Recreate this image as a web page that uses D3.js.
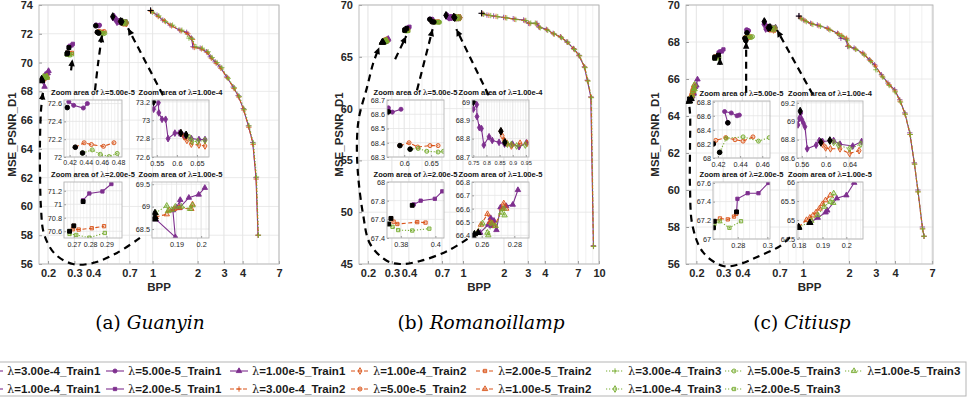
<!DOCTYPE html>
<html>
<head>
<meta charset="utf-8">
<script src="https://cdn.jsdelivr.net/npm/d3@7"></script>
<style>
  body { margin: 0; background: #fff; }
  svg { display: block; font-family: Arial, "Liberation Sans", Helvetica, sans-serif; }
</style>
</head>
<body>
<svg id="chart" width="967" height="400"></svg>
<script>
// ---- series labels
const lambdas = ["3.00e-4", "1.00e-4", "5.00e-5", "2.00e-5", "1.00e-5"];
const trains = ["Train1", "Train2", "Train3"];

// ---- (a) Guanyin : [bpp, psnr]
const gyR3e4T1 = [[0.97,73.62],[1.07,73.3],[1.17,72.95],[1.31,72.6],[1.52,72.25],[1.69,72.1],[1.82,71.7],[1.86,71.1],[2.08,71.0],[2.29,70.75],[2.43,70.4],[2.62,70.05],[2.82,69.7],[3.13,69.0],[3.46,68.3],[3.73,67.7],[4.04,66.8],[4.37,65.6],[4.67,64.45],[4.91,62.0],[5.07,58.0]];
const gyR3e4T2 = [[0.98,73.55],[1.09,73.2],[1.2,72.9],[1.34,72.55],[1.55,72.2],[1.72,72.0],[1.85,71.6],[1.9,71.05],[2.12,70.95],[2.32,70.7],[2.47,70.3],[2.66,69.95],[2.86,69.6],[3.16,68.95],[3.5,68.2],[3.77,67.6],[4.07,66.7],[4.4,65.5],[4.7,64.3],[4.93,61.9],[5.08,58.0]];
const gyR3e4T3 = [[1.0,73.5],[1.1,73.25],[1.22,72.85],[1.36,72.6],[1.57,72.25],[1.75,71.7],[1.84,71.65],[1.95,71.1],[2.15,71.0],[2.35,70.75],[2.5,70.35],[2.7,70.0],[2.9,69.65],[3.2,68.9],[3.52,68.25],[3.8,67.65],[4.1,66.75],[4.42,65.6],[4.72,64.4],[4.95,62.05],[5.1,58.0]];
const gyR1e4T1 = [[0.542,73.12],[0.554,73.19],[0.555,73.08],[0.563,73.01],[0.572,73.01],[0.578,72.8],[0.595,72.86],[0.606,72.86],[0.618,72.83],[0.636,72.8],[0.655,72.79],[0.67,72.79]];
const gyR1e4T2 = [[0.61,72.86],[0.618,72.82],[0.625,72.78],[0.636,72.74],[0.655,72.73],[0.67,72.72]];
const gyR1e4T3 = [[0.623,72.84],[0.632,72.81],[0.638,72.77],[0.652,72.77],[0.67,72.78]];
const gyR5e5T1 = [[0.419,72.62],[0.425,72.58],[0.437,72.55],[0.442,72.6]];
const gyR5e5T2 = [[0.427,72.11],[0.438,72.16],[0.447,72.14],[0.462,72.12],[0.475,72.16]];
const gyR5e5T3 = [[0.436,72.045],[0.448,72.08],[0.458,72.03],[0.469,72.005],[0.479,72.04]];
const gyR2e5T1 = [[0.2757,71.06],[0.2795,71.16],[0.2875,71.19],[0.293,71.3]];
const gyR2e5T2 = [[0.27,70.68],[0.2695,70.63],[0.273,70.625],[0.281,70.645],[0.2885,70.675]];
const gyR2e5T3 = [[0.2674,70.6],[0.2674,70.56],[0.2715,70.545],[0.2795,70.505],[0.289,70.575]];
const gyR1e5T1 = [[0.1815,68.72],[0.1895,68.32],[0.1885,68.92],[0.19,68.98],[0.1915,69.15],[0.1912,68.97],[0.195,69.2],[0.199,69.27],[0.2015,69.42]];
const gyR1e5T2 = [[0.1815,68.77],[0.186,68.83],[0.187,68.92],[0.189,68.95],[0.191,68.97],[0.196,68.95],[0.1965,69.05]];
const gyR1e5T3 = [[0.1815,68.86],[0.186,69.02],[0.1865,68.9],[0.188,68.93],[0.1895,69.0],[0.192,69.0],[0.1955,68.95],[0.1965,69.03]];
const gyBlack = [[[0.97,73.62]], [[0.542,73.2],[0.61,72.86],[0.623,72.84]], [[0.417,72.555],[0.427,72.11],[0.436,72.045]], [[0.2757,71.04],[0.27,70.68],[0.2674,70.6]], [[0.1812,68.72],[0.1812,68.77],[0.1812,68.86]]];
const gyXTicks = [0.2, 0.3, 0.4, 0.7, 1, 2, 3, 4, 7];
const gyYTicks = [56, 58, 60, 62, 64, 66, 68, 70, 72, 74];
const gyArrows = [
  [[0.285,69.46],[0.291,70.23]],
  [[0.412,68.07],[0.433,70.02],[0.459,71.91]],
  [[1.174,67.72],[0.685,72.39]],
  [[0.823,57.81],[0.578,56.77],[0.3995,56.07],[0.2935,56.0],[0.2225,56.7],[0.188,58.09],[0.1794,59.9],[0.1767,62.28],[0.1767,64.58],[0.1794,66.67],[0.1848,67.93]]
];

// ---- (b) Romanoillamp
const rlR3e4T1 = [[1.38,69.2],[1.5,69.03],[1.68,68.94],[1.99,68.8],[2.34,68.68],[2.79,68.55],[3.04,68.23],[3.5,68.23],[3.6,67.9],[4.1,67.65],[4.6,67.26],[5.2,66.94],[5.8,66.45],[6.5,65.8],[7.1,65.16],[7.8,64.03],[8.2,62.74],[8.7,61.13],[9.1,46.77]];
const rlR3e4T2 = [[1.4,69.15],[1.55,69.0],[1.75,68.9],[2.05,68.78],[2.4,68.62],[2.85,68.5],[3.1,68.2],[3.45,68.2],[3.65,67.85],[4.15,67.6],[4.65,67.2],[5.25,66.9],[5.85,66.4],[6.55,65.75],[7.15,65.1],[7.85,64.0],[8.25,62.7],[8.75,61.1],[9.1,46.7]];
const rlR3e4T3 = [[1.42,69.1],[1.6,68.98],[1.8,68.88],[2.1,68.75],[2.45,68.6],[2.9,68.5],[3.15,68.25],[3.4,68.25],[3.7,67.8],[4.2,67.55],[4.7,67.2],[5.3,66.85],[5.9,66.4],[6.6,65.7],[7.2,65.1],[7.9,63.95],[8.3,62.65],[8.8,61.05],[9.12,46.7]];
const rlR1e4T1 = [[0.75,68.96],[0.763,68.985],[0.764,68.92],[0.773,68.86],[0.781,68.855],[0.79,68.765],[0.81,68.81],[0.822,68.79],[0.848,68.78],[0.869,68.77],[0.899,68.77],[0.924,68.756],[0.952,68.777]];
const rlR1e4T2 = [[0.855,68.84],[0.86,68.815],[0.868,68.79],[0.878,68.775],[0.895,68.76],[0.928,68.775],[0.955,68.775]];
const rlR1e4T3 = [[0.87,68.78],[0.88,68.77],[0.895,68.768],[0.915,68.76],[0.948,68.765]];
const rlR5e5T1 = [[0.5705,68.645],[0.578,68.615],[0.594,68.635]];
const rlR5e5T2 = [[0.592,68.38],[0.609,68.4],[0.625,68.37],[0.648,68.38],[0.663,68.38]];
const rlR5e5T3 = [[0.611,68.355],[0.626,68.36],[0.642,68.34],[0.663,68.335],[0.673,68.34]];
const rlR2e5T1 = [[0.3875,67.76],[0.3915,67.8],[0.3997,67.82],[0.404,67.9]];
const rlR2e5T2 = [[0.3743,67.61],[0.3758,67.575],[0.378,67.55],[0.3895,67.57],[0.3943,67.565]];
const rlR2e5T3 = [[0.373,67.55],[0.3752,67.52],[0.3785,67.485],[0.3866,67.48],[0.3965,67.5]];
const rlR1e5T1 = [[0.2578,66.42],[0.259,66.42],[0.264,66.48],[0.2655,66.53],[0.266,66.47],[0.2675,66.51],[0.269,66.44],[0.2715,66.61],[0.275,66.62],[0.279,66.63],[0.2822,66.74]];
const rlR1e5T2 = [[0.2548,66.39],[0.2595,66.48],[0.2635,66.56],[0.265,66.5],[0.2665,66.49],[0.268,66.47],[0.2725,66.6],[0.2735,66.64],[0.275,66.6]];
const rlR1e5T3 = [[0.2555,66.41],[0.2605,66.49],[0.2635,66.42],[0.264,66.4],[0.266,66.49],[0.2685,66.47],[0.272,66.57],[0.2735,66.6],[0.274,66.55]];
const rlBlack = [[[1.37,69.2]], [[0.75,69.0],[0.855,68.84],[0.87,68.78]], [[0.5705,68.617],[0.592,68.38],[0.611,68.355]], [[0.3866,67.75],[0.3743,67.61],[0.373,67.55]], [[0.2578,66.42],[0.2548,66.39],[0.2555,66.41]]];
const rlXTicks = [0.2, 0.3, 0.4, 0.7, 1, 2, 3, 4, 7, 10];
const rlYTicks = [45, 50, 55, 60, 65, 70];
const rlArrows = [
  [[0.317,64.77],[0.3826,67.0]],
  [[0.459,61.76],[0.598,67.67]],
  [[1.543,61.28],[0.894,67.67]],
  [[1.08,47.42],[0.768,46.26],[0.485,45.29],[0.345,45.0],[0.277,45.29],[0.2075,46.94],[0.184,49.84],[0.169,53.72],[0.1662,56.92],[0.172,59.15],[0.197,62.05],[0.2187,64.38],[0.2424,65.93]]
];

// ---- (c) Citiusp
const cuR3e4T1 = [[0.94,69.4],[1.01,69.19],[1.12,69.01],[1.24,68.92],[1.44,68.74],[1.68,68.47],[1.77,68.2],[1.91,68.15],[1.96,67.76],[2.16,67.67],[2.46,67.4],[2.72,67.04],[2.94,66.77],[3.26,66.23],[3.6,65.78],[3.98,65.42],[4.3,64.88],[4.64,64.17],[5.0,63.09],[5.35,61.47],[5.65,60.0],[6.05,58.0],[6.2,57.5]];
const cuR3e4T2 = [[0.96,69.3],[1.03,69.15],[1.14,68.98],[1.27,68.88],[1.47,68.7],[1.7,68.45],[1.79,68.35],[1.93,68.2],[1.98,67.8],[2.2,67.62],[2.5,67.35],[2.76,67.0],[2.98,66.7],[3.3,66.15],[3.65,65.7],[4.0,65.35],[4.32,64.8],[4.66,64.1],[5.02,63.0],[5.37,61.4],[5.66,59.9],[6.06,57.9],[6.2,57.5]];
const cuR3e4T3 = [[0.98,69.25],[1.05,69.1],[1.16,68.95],[1.3,68.85],[1.5,68.65],[1.72,68.4],[1.82,68.3],[1.95,68.1],[2.0,67.75],[2.22,67.6],[2.52,67.3],[2.78,66.95],[3.0,66.5],[3.33,66.1],[3.67,65.65],[4.02,65.3],[4.35,64.75],[4.68,64.1],[5.04,63.0],[5.38,61.4],[5.67,59.9],[6.07,57.9],[6.2,57.5]];
const cuR1e4T1 = [[0.5536,68.96],[0.5557,69.03],[0.5584,69.09],[0.56,69.02],[0.5627,68.98],[0.5653,68.94],[0.5691,68.7],[0.584,68.74],[0.5893,68.79],[0.5947,68.78],[0.6133,68.79],[0.624,68.75],[0.6453,68.73],[0.6603,68.78]];
const cuR1e4T2 = [[0.592,68.77],[0.5947,68.75],[0.6,68.71],[0.608,68.7],[0.624,68.7],[0.64,68.65],[0.656,68.68]];
const cuR1e4T3 = [[0.607,68.79],[0.6133,68.77],[0.6213,68.74],[0.64,68.7],[0.6587,68.75]];
const cuR5e5T1 = [[0.4289,68.5],[0.426,68.66],[0.432,68.64],[0.4372,68.6],[0.4393,68.61]];
const cuR5e5T2 = [[0.4158,68.2],[0.418,68.25],[0.427,68.29],[0.4354,68.26],[0.4427,68.24],[0.4516,68.3]];
const cuR5e5T3 = [[0.4215,68.08],[0.4275,68.28],[0.4427,68.3],[0.4566,68.24],[0.4664,68.29]];
const cuR2e5T1 = [[0.2792,67.29],[0.2798,67.43],[0.2867,67.49],[0.294,67.49],[0.3007,67.6]];
const cuR2e5T2 = [[0.2642,67.19],[0.268,67.22],[0.2733,67.21],[0.2775,67.24],[0.279,67.27]];
const cuR2e5T3 = [[0.2636,67.12],[0.2642,67.16],[0.2678,67.19],[0.2744,67.12],[0.2822,67.19]];
const cuR1e5T1 = [[0.1847,64.93],[0.188,65.06],[0.1913,65.2],[0.192,65.25],[0.196,65.57],[0.2,65.65],[0.2033,65.98]];
const cuR1e5T2 = [[0.18,64.82],[0.1833,65.0],[0.1847,65.06],[0.186,65.12],[0.1873,65.2],[0.1887,65.3],[0.19,65.42],[0.1913,65.52],[0.1933,65.65]];
const cuR1e5T3 = [[0.18,64.8],[0.1853,64.98],[0.188,65.13],[0.1907,65.35],[0.1933,65.48],[0.1947,65.7],[0.1945,65.45]];
const cuBlack = [[[0.94,69.4]], [[0.5573,69.11],[0.592,68.77],[0.607,68.79]], [[0.4289,68.5],[0.4158,68.2],[0.4215,68.08]], [[0.2792,67.29],[0.2642,67.19],[0.2636,67.12]], [[0.1847,64.93],[0.18,64.82],[0.18,64.8]]];
const cuXTicks = [0.2, 0.3, 0.4, 0.7, 1, 2, 3, 4, 7];
const cuYTicks = [56, 58, 60, 62, 64, 66, 68, 70];
const cuArrows = [
  [[0.2855,66.77],[0.2855,67.15]],
  [[0.4237,65.26],[0.4237,68.01]],
  [[1.159,65.15],[0.6746,68.65]],
  [[0.8204,57.45],[0.706,56.97],[0.4999,56.38],[0.3872,56.0],[0.2989,55.89],[0.221,56.64],[0.1888,58.05],[0.1816,60.2],[0.1816,62.19],[0.1816,64.18],[0.1763,65.05]]
];

// ---- inset tick labels
const gyIn1X = [0.42, 0.44, 0.46, 0.48], gyIn1Y = [72, 72.2, 72.4, 72.6];
const gyIn2X = [0.55, 0.6, 0.65], gyIn2Y = [72.6, 72.8, 73, 73.2];
const gyIn3X = [0.27, 0.28, 0.29], gyIn3Y = [70.6, 70.8, 71, 71.2];
const gyIn4X = [0.19, 0.2], gyIn4Y = [68.5, 69, 69.5];
const rlIn1X = [0.6, 0.65], rlIn1Y = [68.3, 68.4, 68.5, 68.6, 68.7];
const rlIn2X = [0.75, 0.8, 0.85, 0.9, 0.95], rlIn2Y = [68.7, 68.8, 68.9, 69];
const rlIn3X = [0.38, 0.4], rlIn3Y = [67.4, 67.6, 67.8, 68];
const rlIn4X = [0.26, 0.28], rlIn4Y = [66.4, 66.5, 66.6, 66.7, 66.8];
const cuIn1X = [0.42, 0.44, 0.46], cuIn1Y = [68, 68.2, 68.4, 68.6, 68.8];
const cuIn2X = [0.56, 0.6, 0.64], cuIn2Y = [68.6, 68.8, 69, 69.2];
const cuIn3X = [0.28, 0.3], cuIn3Y = [67, 67.2, 67.4, 67.6];
const cuIn4X = [0.18, 0.19, 0.2], cuIn4Y = [64.5, 65, 65.5, 66];

// ---- styling
const fontSans = 'Arial, "Liberation Sans", Helvetica, sans-serif';
const colors = ["#7E2F8E", "#D95319", "#77AC30"];
const dashes = [null, "4,2.5", "1.2,1.8"];
const fillOpacity = [1, 0.25, 0.3];
const shapes = [d3.symbolPlus || d3.symbolCross, d3.symbolDiamond, d3.symbolCircle, d3.symbolSquare, d3.symbolTriangle];
const shapeSize = [11, 13, 13, 11, 13];

const panels = [
  {
    tag: "(a) ", name: "Guanyin", capX: 150, ylabX: 12,
    box: { x0: 39, x1: 279, y0: 5, y1: 264 },
    xDomain: [0.174, 7], yDomain: [56, 74], xTicks: gyXTicks, yTicks: gyYTicks,
    series: [[gyR3e4T1, gyR3e4T2, gyR3e4T3], [gyR1e4T1, gyR1e4T2, gyR1e4T3], [gyR5e5T1, gyR5e5T2, gyR5e5T3], [gyR2e5T1, gyR2e5T2, gyR2e5T3], [gyR1e5T1, gyR1e5T2, gyR1e5T3]],
    black: gyBlack, arrows: gyArrows,
    insets: [
      { lam: 2, box: { x0: 64, x1: 122, y0: 100, y1: 157 }, xDomain: [0.413, 0.485], yDomain: [72, 72.64], xTicks: gyIn1X, yTicks: gyIn1Y },
      { lam: 1, box: { x0: 152, x1: 209, y0: 100, y1: 157 }, xDomain: [0.538, 0.68], yDomain: [72.6, 73.22], xTicks: gyIn2X, yTicks: gyIn2Y },
      { lam: 3, box: { x0: 64, x1: 122, y0: 182, y1: 238 }, xDomain: [0.264, 0.2995], yDomain: [70.5, 71.33], xTicks: gyIn3X, yTicks: gyIn3Y },
      { lam: 4, box: { x0: 152, x1: 209, y0: 182, y1: 238 }, xDomain: [0.18, 0.2032], yDomain: [68.3, 69.55], xTicks: gyIn4X, yTicks: gyIn4Y }
    ]
  },
  {
    tag: "(b) ", name: "Romanoillamp", capX: 481, ylabX: 339,
    box: { x0: 359, x1: 599, y0: 5, y1: 264 },
    xDomain: [0.172, 10], yDomain: [45, 70], xTicks: rlXTicks, yTicks: rlYTicks,
    series: [[rlR3e4T1, rlR3e4T2, rlR3e4T3], [rlR1e4T1, rlR1e4T2, rlR1e4T3], [rlR5e5T1, rlR5e5T2, rlR5e5T3], [rlR2e5T1, rlR2e5T2, rlR2e5T3], [rlR1e5T1, rlR1e5T2, rlR1e5T3]],
    black: rlBlack, arrows: rlArrows,
    insets: [
      { lam: 2, box: { x0: 387, x1: 444, y0: 100, y1: 157 }, xDomain: [0.568, 0.674], yDomain: [68.3, 68.7], xTicks: rlIn1X, yTicks: rlIn1Y },
      { lam: 1, box: { x0: 472, x1: 529, y0: 100, y1: 157 }, xDomain: [0.745, 0.962], yDomain: [68.7, 69.01], xTicks: rlIn2X, yTicks: rlIn2Y },
      { lam: 3, box: { x0: 387, x1: 444, y0: 182, y1: 238 }, xDomain: [0.372, 0.405], yDomain: [67.4, 68], xTicks: rlIn3X, yTicks: rlIn3Y },
      { lam: 4, box: { x0: 472, x1: 529, y0: 182, y1: 238 }, xDomain: [0.254, 0.289], yDomain: [66.38, 66.8], xTicks: rlIn4X, yTicks: rlIn4Y }
    ]
  },
  {
    tag: "(c) ", name: "Citiusp", capX: 802, ylabX: 655,
    box: { x0: 686, x1: 933, y0: 5, y1: 264 },
    xDomain: [0.171, 7.1], yDomain: [56, 70], xTicks: cuXTicks, yTicks: cuYTicks,
    series: [[cuR3e4T1, cuR3e4T2, cuR3e4T3], [cuR1e4T1, cuR1e4T2, cuR1e4T3], [cuR5e5T1, cuR5e5T2, cuR5e5T3], [cuR2e5T1, cuR2e5T2, cuR2e5T3], [cuR1e5T1, cuR1e5T2, cuR1e5T3]],
    black: cuBlack, arrows: cuArrows,
    insets: [
      { lam: 2, box: { x0: 713, x1: 770, y0: 101, y1: 158 }, xDomain: [0.4155, 0.467], yDomain: [68, 68.81], xTicks: cuIn1X, yTicks: cuIn1Y },
      { lam: 1, box: { x0: 797, x1: 863, y0: 101, y1: 158 }, xDomain: [0.552, 0.6625], yDomain: [68.6, 69.22], xTicks: cuIn2X, yTicks: cuIn2Y },
      { lam: 3, box: { x0: 713, x1: 770, y0: 182, y1: 239 }, xDomain: [0.2633, 0.3018], yDomain: [67, 67.61], xTicks: cuIn3X, yTicks: cuIn3Y },
      { lam: 4, box: { x0: 797, x1: 863, y0: 182, y1: 239 }, xDomain: [0.1793, 0.207], yDomain: [64.5, 66], xTicks: cuIn4X, yTicks: cuIn4Y }
    ]
  }
];

const svg = d3.select("#chart");
const defs = svg.append("defs");
let clipId = 0;
const fmt = d3.format("~g");

function markerPath(lam, size) {
  return d3.symbol().type(shapes[lam]).size(size)();
}

// draws grid, box, ticks and all series for one axes (main or inset)
function drawAxes(g, cfg, series, black, isInset) {
  const b = cfg.box;
  const x = (isInset ? d3.scaleLinear() : d3.scaleLog()).domain(cfg.xDomain).range([b.x0, b.x1]);
  const y = d3.scaleLinear().domain(cfg.yDomain).range([b.y1, b.y0]);

  g.append("rect")
    .attr("x", b.x0).attr("y", b.y0)
    .attr("width", b.x1 - b.x0).attr("height", b.y1 - b.y0)
    .attr("fill", "#fff");

  // minor grid
  let minor;
  if (isInset) {
    const step = (cfg.xTicks.length > 1 ? cfg.xTicks[1] - cfg.xTicks[0] : 0.01) / 5;
    minor = d3.range(Math.ceil(cfg.xDomain[0] / step) * step, cfg.xDomain[1], step);
  } else {
    minor = [];
    [0.1, 1, 10].forEach(function (dec) {
      for (let k = 1; k < 10; k++) minor.push(dec * k);
    });
    minor = minor.filter(function (v) { return v >= cfg.xDomain[0] && v <= cfg.xDomain[1]; });
  }
  g.append("g").selectAll("line").data(minor).enter().append("line")
    .attr("x1", function (d) { return x(d); }).attr("x2", function (d) { return x(d); })
    .attr("y1", b.y0).attr("y2", b.y1)
    .attr("stroke", "#eeeeee").attr("stroke-width", 0.8);

  g.append("g").selectAll("line").data(cfg.xTicks).enter().append("line")
    .attr("x1", function (d) { return x(d); }).attr("x2", function (d) { return x(d); })
    .attr("y1", b.y0).attr("y2", b.y1)
    .attr("stroke", "#e4e4e4").attr("stroke-width", 0.8);

  g.append("g").selectAll("line").data(cfg.yTicks).enter().append("line")
    .attr("x1", b.x0).attr("x2", b.x1)
    .attr("y1", function (d) { return y(d); }).attr("y2", function (d) { return y(d); })
    .attr("stroke", "#e4e4e4").attr("stroke-width", 0.8);

  // axes
  const fs = isInset ? 7.3 : 11;
  // crowded inset x labels get a smaller font so they stay apart
  const xSpacing = Math.abs(x(cfg.xTicks[1] || cfg.xTicks[0]) - x(cfg.xTicks[0])) || 99;
  const fsX = isInset ? Math.min(fs, xSpacing / 2.3) : fs;
  const xAxis = d3.axisBottom(x).tickValues(cfg.xTicks).tickFormat(fmt)
    .tickSizeInner(isInset ? -2 : -3).tickSizeOuter(0).tickPadding(isInset ? 3.5 : 5);
  const yAxis = d3.axisLeft(y).tickValues(cfg.yTicks).tickFormat(fmt)
    .tickSizeInner(isInset ? -2 : -3).tickSizeOuter(0).tickPadding(isInset ? 2 : 6);

  const xg = g.append("g").attr("transform", `translate(0, ${b.y1})`).call(xAxis);
  const yg = g.append("g").attr("transform", `translate(${b.x0}, 0)`).call(yAxis);
  [[xg, fsX], [yg, fs]].forEach(function (pair) {
    const ag = pair[0];
    ag.attr("font-family", null);
    ag.select(".domain").remove();
    ag.selectAll(".tick line").attr("stroke", "#9a9a9a");
    ag.selectAll("text")
      .style("font-family", fontSans)
      .style("font-size", pair[1] + "px")
      .style("font-weight", isInset ? "normal" : "bold")
      .attr("fill", "#262626");
  });

  // series (clipped to the box)
  const cid = "clip" + (clipId++);
  defs.append("clipPath").attr("id", cid).append("rect")
    .attr("x", b.x0).attr("y", b.y0)
    .attr("width", b.x1 - b.x0).attr("height", b.y1 - b.y0);
  const plot = g.append("g").attr("clip-path", `url(#${cid})`);

  const line = d3.line()
    .x(function (d) { return x(d[0]); })
    .y(function (d) { return y(d[1]); });

  trains.forEach(function (t, ti) {
    series.forEach(function (lamSeries, li) {
      const pts = lamSeries[ti];
      plot.append("path")
        .datum(pts)
        .attr("d", line)
        .attr("fill", "none")
        .attr("stroke", colors[ti])
        .attr("stroke-width", 1.1)
        .attr("stroke-dasharray", dashes[ti]);
      plot.append("g").selectAll("path").data(pts).enter().append("path")
        .attr("d", markerPath(li, shapeSize[li]))
        .attr("transform", function (d) { return `translate(${x(d[0])}, ${y(d[1])})`; })
        .attr("fill", li === 0 ? "none" : colors[ti])
        .attr("fill-opacity", fillOpacity[ti])
        .attr("stroke", colors[ti])
        .attr("stroke-width", li === 0 ? 0.8 : 0.9);
    });
  });

  // black starting points
  black.forEach(function (pts, li) {
    plot.append("g").selectAll("path").data(pts).enter().append("path")
      .attr("d", markerPath(li, shapeSize[li] + 4))
      .attr("transform", function (d) { return `translate(${x(d[0])}, ${y(d[1])})`; })
      .attr("fill", li === 0 ? "none" : "#000")
      .attr("stroke", "#000")
      .attr("stroke-width", 1);
  });

  g.append("rect")
    .attr("x", b.x0).attr("y", b.y0)
    .attr("width", b.x1 - b.x0).attr("height", b.y1 - b.y0)
    .attr("fill", "none").attr("stroke", "#b5b5b5").attr("stroke-width", 0.9);

  return { x: x, y: y };
}

panels.forEach(function (p) {
  const g = svg.append("g");
  const sc = drawAxes(g, p, p.series, p.black, false);

  // axis labels
  g.append("text")
    .attr("x", (p.box.x0 + p.box.x1) / 2).attr("y", 291)
    .attr("text-anchor", "middle")
    .style("font-size", "11.5px").style("font-weight", "bold")
    .attr("fill", "#262626")
    .text("BPP");
  g.append("text")
    .attr("transform", `translate(${p.ylabX}, ${(p.box.y0 + p.box.y1) / 2}) rotate(-90)`)
    .attr("text-anchor", "middle").attr("dy", "0.35em")
    .style("font-size", "11.5px").style("font-weight", "bold")
    .attr("fill", "#262626")
    .text("MSE_PSNR_D1");

  // dashed arrows pointing at the zoomed clusters
  const arrowLine = d3.line()
    .x(function (d) { return sc.x(d[0]); })
    .y(function (d) { return sc.y(d[1]); })
    .curve(d3.curveCatmullRom);
  p.arrows.forEach(function (pts) {
    g.append("path")
      .datum(pts)
      .attr("d", arrowLine)
      .attr("fill", "none")
      .attr("stroke", "#000")
      .attr("stroke-width", 2.2)
      .attr("stroke-dasharray", "7,5");
    const a = pts[pts.length - 2], e = pts[pts.length - 1];
    const ax = sc.x(a[0]), ay = sc.y(a[1]), ex = sc.x(e[0]), ey = sc.y(e[1]);
    const ang = Math.atan2(ey - ay, ex - ax);
    const L = 7, W = 3.2;
    const bx = ex - L * Math.cos(ang), by = ey - L * Math.sin(ang);
    g.append("path")
      .attr("d", `M${ex},${ey}L${bx - W * Math.sin(ang)},${by + W * Math.cos(ang)}L${bx + W * Math.sin(ang)},${by - W * Math.cos(ang)}Z`)
      .attr("fill", "#000");
  });

  // zoom insets
  p.insets.forEach(function (ins) {
    const ig = svg.append("g");
    const only = p.series.map(function (s, li) { return li === ins.lam ? s : [[], [], []]; });
    const onlyBlack = p.black.map(function (s, li) { return li === ins.lam ? s : []; });
    drawAxes(ig, ins, only, onlyBlack, true);
    const t = ig.append("text")
      .attr("x", (ins.box.x0 + ins.box.x1) / 2).attr("y", ins.box.y0 - 5.5)
      .attr("text-anchor", "middle")
      .style("font-size", "7.5px").style("font-weight", "bold")
      .attr("fill", "#111");
    t.append("tspan").text("Zoom area of ");
    t.append("tspan").style("font-family", '"DejaVu Serif", serif').style("font-weight", "normal").text("λ");
    t.append("tspan").text("=" + lambdas[ins.lam]);
  });

  // caption
  const cap = svg.append("text")
    .attr("x", p.capX).attr("y", 329)
    .attr("text-anchor", "middle")
    .style("font-family", '"DejaVu Serif", serif')
    .style("font-size", "18.5px")
    .attr("fill", "#000");
  cap.append("tspan").text(p.tag);
  cap.append("tspan").style("font-style", "italic").text(p.name);
});

// ---- legend
const legendTextX = [7, 128, 252, 373, 498, 628, 747, 867];
const legendRowY = [371, 389];
const lg = svg.append("g");
lg.append("rect")
  .attr("x", -20).attr("y", 362).attr("width", 986).attr("height", 34)
  .attr("fill", "#fff").attr("stroke", "#b5b5b5").attr("stroke-width", 1);

const entries = [];
trains.forEach(function (t, ti) {
  lambdas.forEach(function (l, li) { entries.push({ ti: ti, li: li }); });
});
entries.forEach(function (e, i) {
  const tx = legendTextX[Math.floor(i / 2)];
  const ty = legendRowY[i % 2];
  lg.append("line")
    .attr("x1", tx - 22).attr("x2", tx - 4).attr("y1", ty).attr("y2", ty)
    .attr("stroke", colors[e.ti]).attr("stroke-width", 1.1)
    .attr("stroke-dasharray", dashes[e.ti]);
  lg.append("path")
    .attr("d", markerPath(e.li, shapeSize[e.li]))
    .attr("transform", `translate(${tx - 13}, ${ty})`)
    .attr("fill", e.li === 0 ? "none" : colors[e.ti])
    .attr("fill-opacity", fillOpacity[e.ti])
    .attr("stroke", colors[e.ti]).attr("stroke-width", 0.9);
  const t = lg.append("text")
    .attr("x", tx).attr("y", ty).attr("dy", "0.35em")
    .style("font-size", "11.5px").style("font-weight", "bold")
    .attr("fill", "#1a1a1a");
  t.append("tspan").style("font-family", '"DejaVu Serif", serif').style("font-weight", "normal").text("λ");
  t.append("tspan").text("=" + lambdas[e.li] + "_" + trains[e.ti]);
});
</script>
</body>
</html>
